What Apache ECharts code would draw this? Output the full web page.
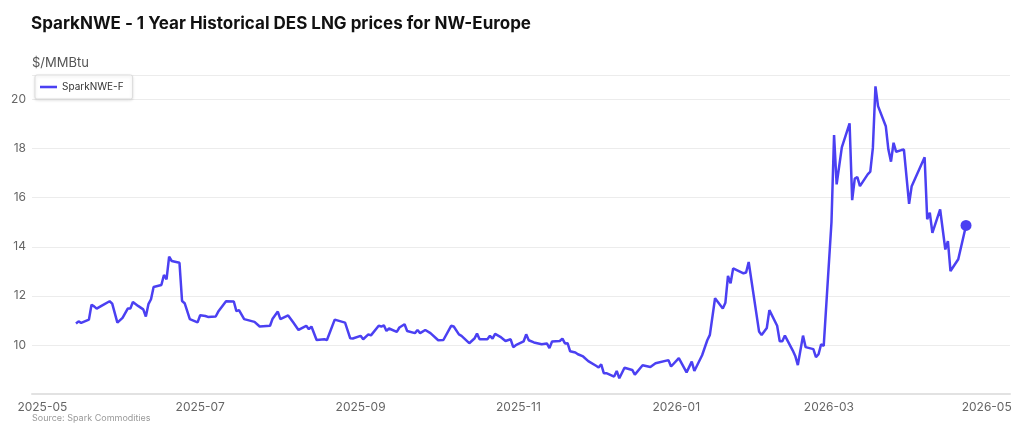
<!DOCTYPE html>
<html>
<head>
<meta charset="utf-8">
<script src="https://cdn.jsdelivr.net/npm/echarts@6/dist/echarts.min.js"></script>
<style>
html,body{margin:0;padding:0;background:#fff;}
#chart{width:1024px;height:438px;}
</style>
</head>
<body>
<div id="chart"></div>
<script>
// SparkNWE-F price history
var dates=[
'2025-05-14','2025-05-15','2025-05-16','2025-05-19','2025-05-20','2025-05-21','2025-05-22','2025-05-24','2025-05-27','2025-05-28','2025-05-30',
'2025-06-01','2025-06-03','2025-06-04','2025-06-05','2025-06-07','2025-06-09','2025-06-10','2025-06-11','2025-06-12','2025-06-13','2025-06-16','2025-06-17','2025-06-18','2025-06-19','2025-06-20','2025-06-23','2025-06-24','2025-06-25','2025-06-27','2025-06-30',
'2025-07-01','2025-07-03','2025-07-04','2025-07-07','2025-07-08','2025-07-11','2025-07-14','2025-07-15','2025-07-16','2025-07-18','2025-07-22','2025-07-24','2025-07-28','2025-07-29','2025-07-31',
'2025-08-01','2025-08-04','2025-08-06','2025-08-08','2025-08-11','2025-08-12','2025-08-13','2025-08-15','2025-08-18','2025-08-19','2025-08-22','2025-08-26','2025-08-28','2025-08-29',
'2025-09-01','2025-09-02','2025-09-04','2025-09-05','2025-09-08','2025-09-09','2025-09-10','2025-09-11','2025-09-12','2025-09-15','2025-09-16','2025-09-18','2025-09-19','2025-09-22','2025-09-23','2025-09-24','2025-09-26','2025-09-28',
'2025-10-01','2025-10-03','2025-10-06','2025-10-07','2025-10-09','2025-10-10','2025-10-13','2025-10-15','2025-10-16','2025-10-17','2025-10-20','2025-10-21','2025-10-22','2025-10-23','2025-10-25','2025-10-27','2025-10-29','2025-10-30','2025-10-31',
'2025-11-03','2025-11-04','2025-11-05','2025-11-07','2025-11-10','2025-11-12','2025-11-13','2025-11-14','2025-11-17','2025-11-18','2025-11-19','2025-11-20','2025-11-21','2025-11-23','2025-11-24','2025-11-26','2025-11-28',
'2025-12-01','2025-12-02','2025-12-03','2025-12-04','2025-12-05','2025-12-08','2025-12-09','2025-12-10','2025-12-12','2025-12-15','2025-12-16','2025-12-19','2025-12-22','2025-12-24','2025-12-29','2025-12-30',
'2026-01-02','2026-01-05','2026-01-07','2026-01-08','2026-01-11','2026-01-13','2026-01-14','2026-01-16','2026-01-19','2026-01-20','2026-01-21','2026-01-22','2026-01-23','2026-01-27','2026-01-28','2026-01-29',
'2026-02-02','2026-02-03','2026-02-05','2026-02-06','2026-02-09','2026-02-10','2026-02-11','2026-02-12','2026-02-15','2026-02-16','2026-02-17','2026-02-19','2026-02-20','2026-02-23','2026-02-24','2026-02-25','2026-02-26','2026-02-27',
'2026-03-02','2026-03-03','2026-03-04','2026-03-06','2026-03-09','2026-03-10','2026-03-11','2026-03-12','2026-03-13','2026-03-16','2026-03-17','2026-03-18','2026-03-19','2026-03-20','2026-03-23','2026-03-24','2026-03-25','2026-03-26','2026-03-27','2026-03-29','2026-03-30',
'2026-04-01','2026-04-02','2026-04-07','2026-04-08','2026-04-09','2026-04-10','2026-04-13','2026-04-15','2026-04-16','2026-04-17','2026-04-20','2026-04-23'
];
var prices=[
10.87,10.96,10.90,11.03,11.64,11.57,11.48,11.60,11.78,11.68,10.91,
11.10,11.48,11.48,11.75,11.59,11.45,11.16,11.66,11.86,12.36,12.44,12.85,12.67,13.60,13.42,13.35,11.79,11.70,11.05,10.92,
11.21,11.18,11.14,11.16,11.36,11.78,11.77,11.38,11.42,11.05,10.94,10.75,10.78,11.07,11.36,
11.05,11.20,10.91,10.61,10.78,10.64,10.75,10.20,10.23,10.20,11.03,10.91,10.27,10.26,
10.37,10.23,10.43,10.39,10.78,10.75,10.80,10.57,10.67,10.53,10.71,10.84,10.57,10.48,10.61,10.48,10.61,10.48,
10.19,10.20,10.78,10.75,10.43,10.37,10.07,10.26,10.46,10.23,10.23,10.37,10.26,10.45,10.33,10.16,10.23,9.91,9.99,
10.14,10.43,10.19,10.10,10.03,10.06,9.87,10.14,10.16,10.26,10.06,10.07,9.74,9.69,9.62,9.53,9.34,
9.15,9.08,9.21,8.85,8.85,8.71,8.94,8.64,9.07,8.98,8.79,9.17,9.10,9.25,9.38,9.12,
9.46,8.88,9.32,8.94,9.58,10.19,10.41,11.90,11.48,11.72,12.81,12.51,13.12,12.92,12.95,13.38,
10.55,10.40,10.69,11.42,10.78,10.15,10.15,10.38,9.78,9.55,9.18,10.38,9.91,9.83,9.50,9.62,10.03,9.96,
15.00,18.55,16.54,18.05,19.03,15.90,16.78,16.84,16.47,16.95,17.06,18.03,20.54,19.73,18.91,17.96,17.47,18.24,17.87,17.94,17.96,
15.75,16.47,17.65,15.12,15.39,14.57,15.52,13.89,14.23,13.01,13.49,14.87
];
var yTicks=[10,12,14,16,18,20];
var lineColor='#4b40f2';

var chart=echarts.init(document.getElementById('chart'));
var seriesData=[];
for(var i=0;i<dates.length;i++){
	seriesData.push([dates[i],prices[i]]);
}
var option={
	animation:false,
	title:[{
		text:'SparkNWE - 1 Year Historical DES LNG prices for NW-Europe',
		left:26,
		top:10,
		textStyle:{fontFamily:'Inter',fontSize:17,fontWeight:'bold',color:'#111'}
	},{
		text:'Source: Spark Commodities',
		left:27,
		top:409,
		textStyle:{fontFamily:'Inter',fontSize:9,fontWeight:'normal',color:'#999'}
	}],
	legend:{
		data:['SparkNWE-F'],
		left:35,
		top:75,
		orient:'vertical',
		icon:'path://M0,0 L20,0 L20,3 L0,3 Z',
		itemWidth:17,
		itemHeight:3,
		itemGap:4,
		padding:[7,9,7,5],
		borderColor:'#dddddd',
		borderWidth:1,
		borderRadius:2,
		backgroundColor:'#fff',
		shadowColor:'rgba(0,0,0,0.12)',
		shadowBlur:3,
		shadowOffsetY:1,
		textStyle:{fontFamily:'Inter',fontSize:10,color:'#333'}
	},
	grid:{left:32,right:14,top:75,bottom:44,containLabel:false},
	xAxis:{
		type:'time',
		min:'2025-04-27',
		max:'2026-05-10',
		splitNumber:6,
		axisLine:{show:true,lineStyle:{color:'#e2e2e2',width:2}},
		axisTick:{show:false},
		splitLine:{show:false},
		axisLabel:{
			formatter:'{yyyy}-{MM}',
			margin:7,
			fontFamily:'Inter',
			fontSize:12,
			color:'#666'
		}
	},
	yAxis:{
		type:'value',
		min:8,
		max:21,
		interval:2,
		name:'$/MMBtu',
		nameLocation:'end',
		nameGap:5,
		nameTextStyle:{align:'left',fontFamily:'Inter',fontSize:13,color:'#555',padding:[0,0,0,0]},
		axisLine:{show:false},
		axisTick:{show:false},
		splitLine:{lineStyle:{color:'#ececec',width:1}},
		axisLabel:{
			margin:6,
			fontFamily:'Inter',
			fontSize:12,
			color:'#666',
			formatter:function(v){return yTicks.indexOf(v)>=0?String(v):'';}
		}
	},
	series:[{
		name:'SparkNWE-F',
		type:'line',
		data:seriesData,
		showSymbol:true,
		symbol:'circle',
		symbolSize:function(v,params){return params.dataIndex===dates.length-1?11:0;},
		itemStyle:{color:lineColor},
		lineStyle:{color:lineColor,width:2.5},
		emphasis:{disabled:true}
	}]
};
chart.setOption(option);
</script>
</body>
</html>
